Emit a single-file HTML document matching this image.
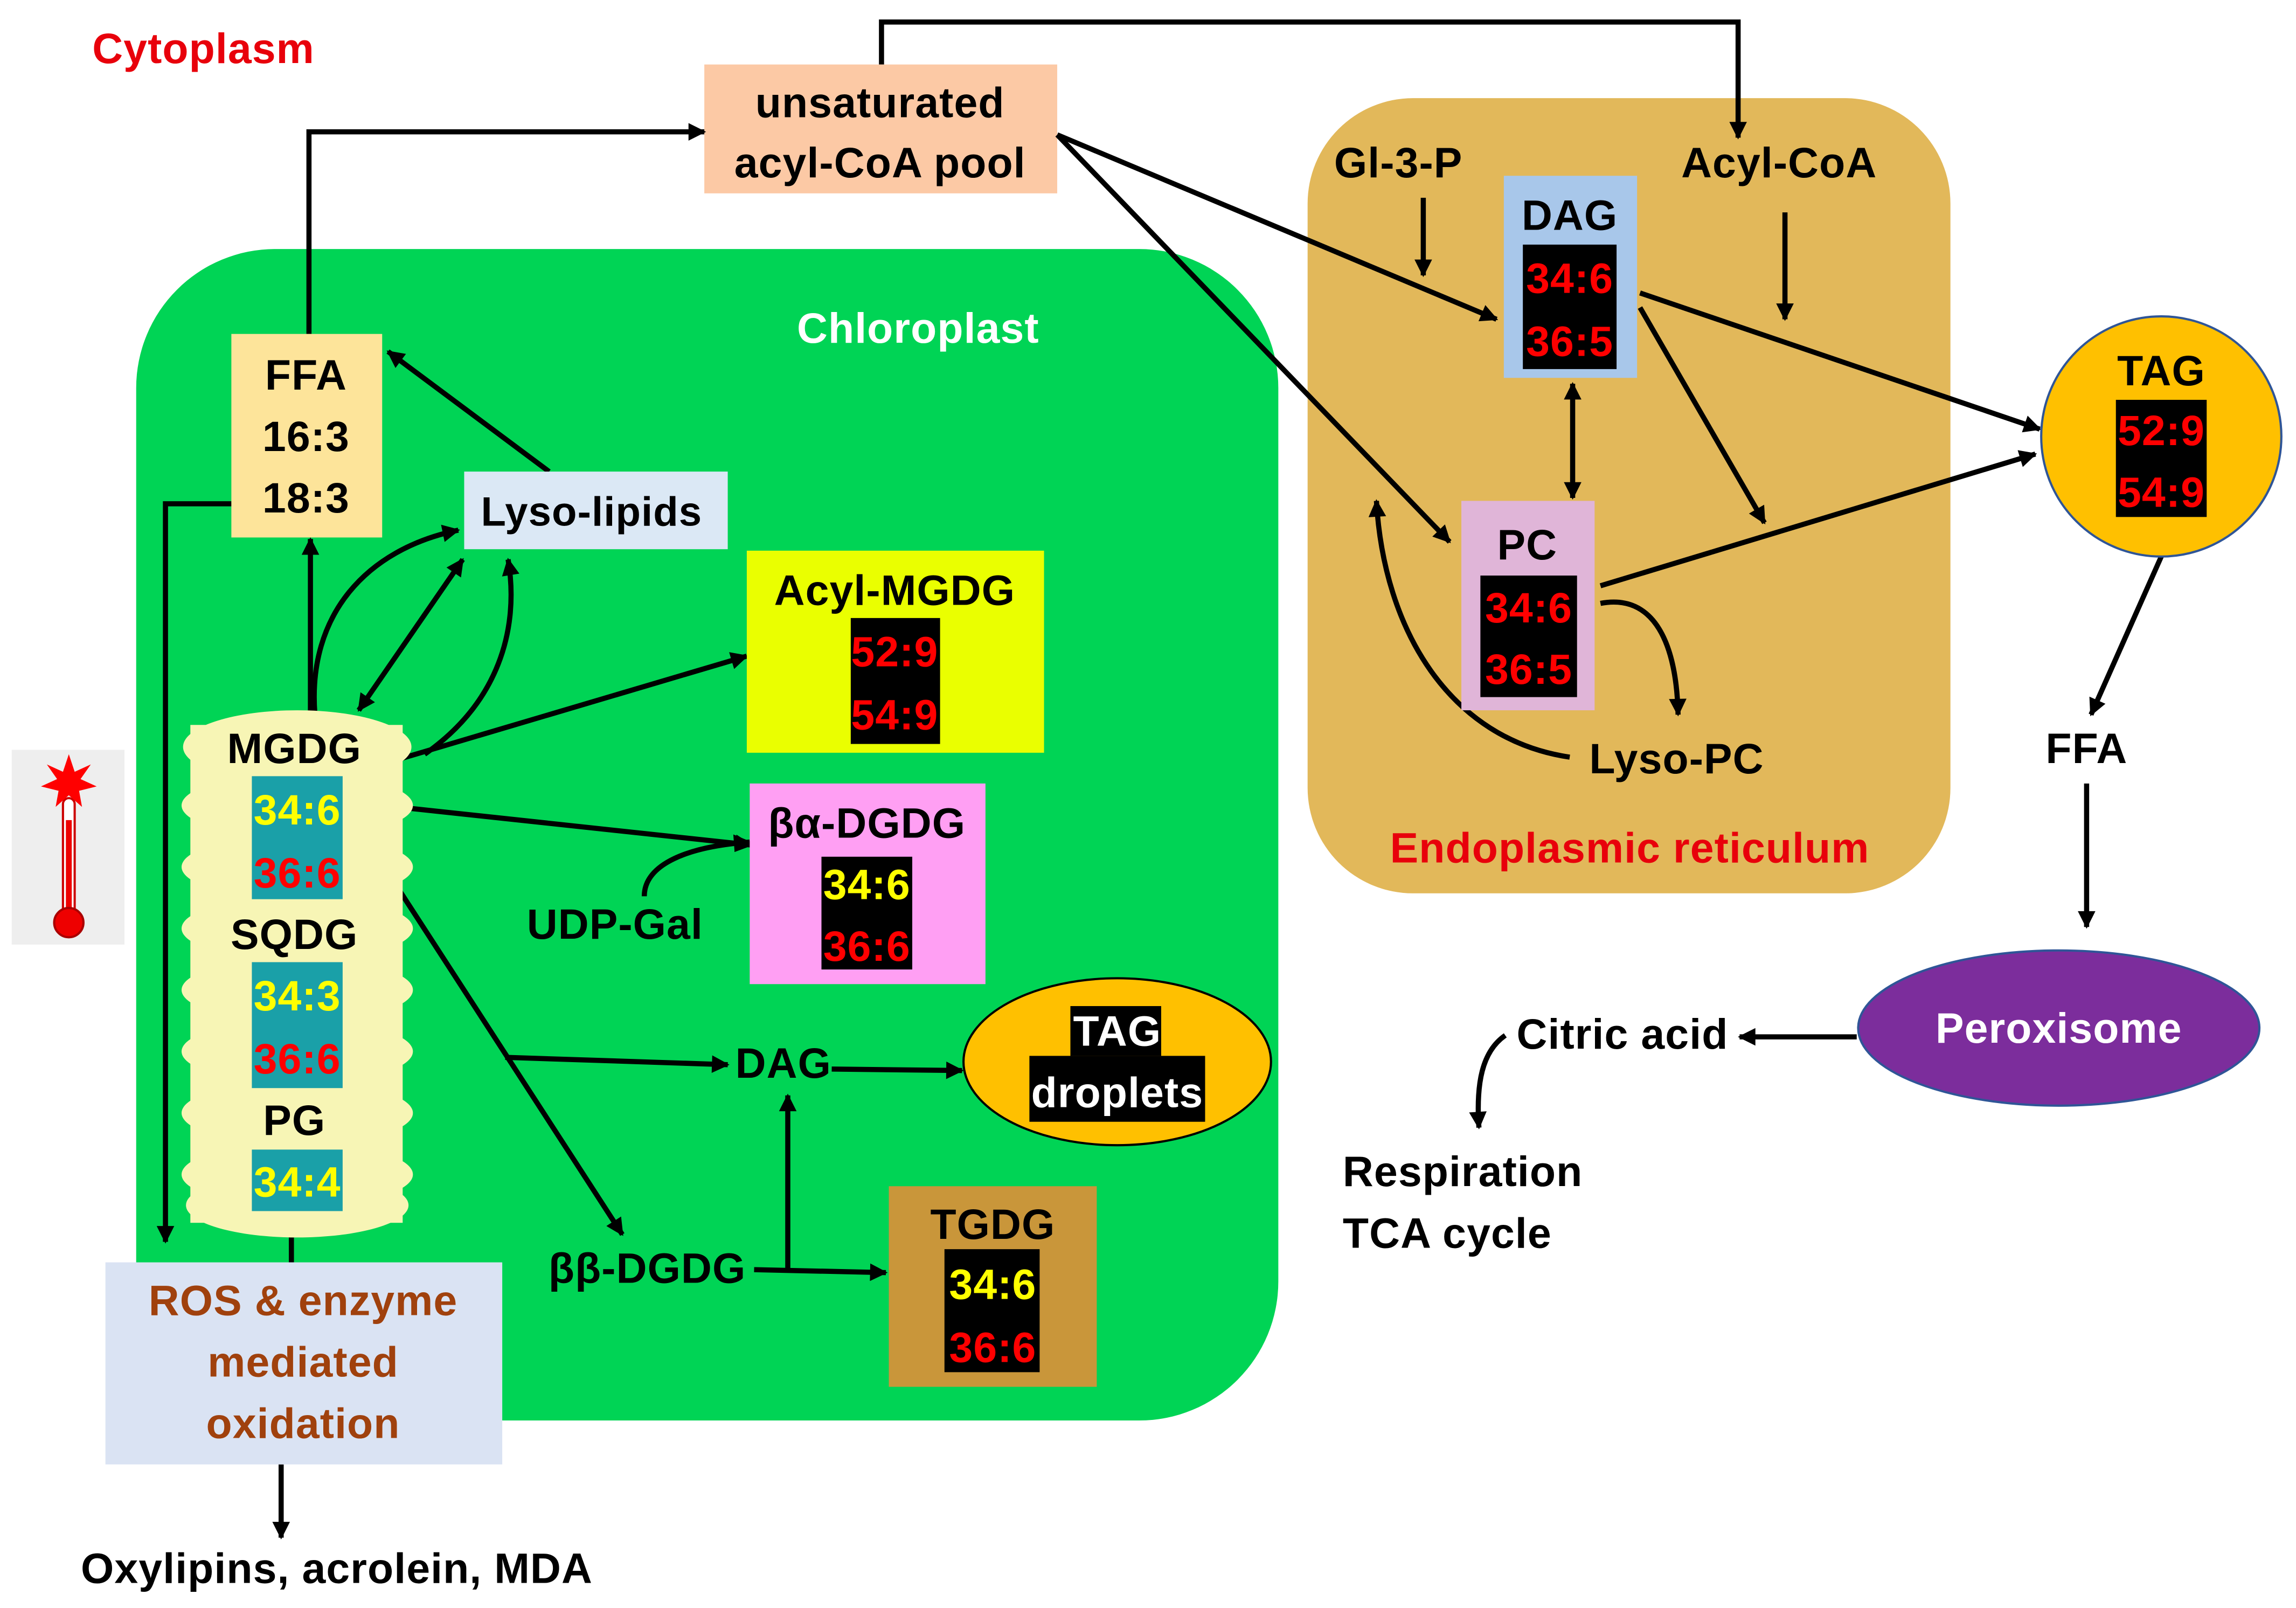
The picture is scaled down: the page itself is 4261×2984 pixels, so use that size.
<!DOCTYPE html>
<html><head><meta charset="utf-8"><style>
html,body{margin:0;padding:0;background:#fff}
svg{display:block}
text{font-family:"Liberation Sans",sans-serif;font-weight:bold;letter-spacing:0.4px}
</style></head><body>
<svg width="4261" height="2984" viewBox="0 0 1568 1098" xmlns="http://www.w3.org/2000/svg">
<defs>
<marker id="b" viewBox="0 0 10 10" refX="9" refY="5" markerWidth="14" markerHeight="12" orient="auto-start-reverse" markerUnits="userSpaceOnUse"><path d="M0,0 L10,5 L0,10 z" fill="#000"/></marker>
</defs>
<rect width="1568" height="1098" fill="#fff"/>
<text x="63" y="43" font-size="29" fill="#e8000b">Cytoplasm</text>

<rect x="93" y="170" width="780" height="800" rx="95" fill="#00d455"/>
<text x="627" y="234" font-size="29" fill="#fff" text-anchor="middle">Chloroplast</text>
<rect x="893" y="67" width="439" height="543" rx="72" fill="#e2b85a"/>
<text x="1113" y="589" font-size="29" fill="#e8000b" text-anchor="middle">Endoplasmic reticulum</text>

<rect x="481" y="44" width="241" height="88" fill="#fcc9a5"/>
<text x="601" y="80" font-size="29" text-anchor="middle">unsaturated</text>
<text x="601" y="121" font-size="29" text-anchor="middle">acyl-CoA pool</text>

<g stroke="#000" stroke-width="3.5" fill="none">
<polyline points="602,44 602,15 1187,15 1187,94" marker-end="url(#b)"/>
<polyline points="211,228 211,90 481,90" marker-end="url(#b)"/>
<line x1="375" y1="322" x2="265" y2="240" marker-end="url(#b)"/>
<polyline points="158,344 113,344 113,848" marker-end="url(#b)"/>
<line x1="199" y1="845" x2="199" y2="862"/>
<line x1="192" y1="1000" x2="192" y2="1050" marker-end="url(#b)"/>
<line x1="212" y1="487" x2="212" y2="368" marker-end="url(#b)"/>
<path d="M215,487 C210,420 250,375 313,362" marker-end="url(#b)"/>
<line x1="245" y1="485" x2="316" y2="382" marker-start="url(#b)" marker-end="url(#b)"/>
<path d="M290,515 C340,480 355,430 347,382" marker-end="url(#b)"/>
<line x1="240" y1="528" x2="510" y2="448" marker-end="url(#b)"/>
<line x1="243" y1="548" x2="513" y2="577" marker-end="url(#b)"/>
<line x1="243" y1="562" x2="425" y2="843" marker-end="url(#b)"/>
<path d="M440,612 C440,590 470,578 512,575" marker-end="url(#b)"/>
<line x1="345" y1="722" x2="497" y2="727" marker-end="url(#b)"/>
<line x1="568" y1="730" x2="657" y2="731" marker-end="url(#b)"/>
<line x1="515" y1="867" x2="605" y2="869" marker-end="url(#b)"/>
<line x1="538" y1="866" x2="538" y2="748" marker-end="url(#b)"/>
<line x1="722" y1="92" x2="1022" y2="218" marker-end="url(#b)"/>
<line x1="722" y1="92" x2="990" y2="370" marker-end="url(#b)"/>
<line x1="972" y1="135" x2="972" y2="188" marker-end="url(#b)"/>
<line x1="1219" y1="145" x2="1219" y2="218" marker-end="url(#b)"/>
<line x1="1074" y1="262" x2="1074" y2="340" marker-start="url(#b)" marker-end="url(#b)"/>
<line x1="1120" y1="200" x2="1393" y2="293" marker-end="url(#b)"/>
<line x1="1120" y1="210" x2="1205" y2="357" marker-end="url(#b)"/>
<line x1="1093" y1="400" x2="1390" y2="310" marker-end="url(#b)"/>
<path d="M1072,517 C990,505 945,430 940,342" marker-end="url(#b)"/>
<path d="M1093,412 C1130,405 1145,440 1146,488" marker-end="url(#b)"/>
<line x1="1476" y1="380" x2="1428" y2="488" marker-end="url(#b)"/>
<line x1="1425" y1="535" x2="1425" y2="633" marker-end="url(#b)"/>
<line x1="1268" y1="708" x2="1188" y2="708" marker-end="url(#b)"/>
<path d="M1028,707 C1012,718 1008,740 1010,770" marker-end="url(#b)"/>
</g>

<rect x="158" y="228" width="103" height="139" fill="#fde49a"/>
<text x="209" y="266" font-size="29" text-anchor="middle">FFA</text>
<text x="209" y="308" font-size="29" text-anchor="middle">16:3</text>
<text x="209" y="350" font-size="29" text-anchor="middle">18:3</text>
<rect x="317" y="322" width="180" height="53" fill="#dbe8f5"/>
<text x="404" y="359" font-size="28" text-anchor="middle">Lyso-lipids</text>

<g fill="#f7f5b5">
<rect x="130" y="495" width="145" height="340"/>
<ellipse cx="203" cy="510" rx="78" ry="25"/>
<ellipse cx="203" cy="550" rx="79" ry="22"/>
<ellipse cx="203" cy="592" rx="79" ry="22"/>
<ellipse cx="203" cy="634" rx="79" ry="22"/>
<ellipse cx="203" cy="676" rx="79" ry="22"/>
<ellipse cx="203" cy="718" rx="79" ry="22"/>
<ellipse cx="203" cy="760" rx="79" ry="22"/>
<ellipse cx="203" cy="802" rx="79" ry="22"/>
<ellipse cx="203" cy="823" rx="76" ry="22"/>
</g>
<text x="201" y="521" font-size="29" text-anchor="middle">MGDG</text>
<rect x="172" y="530" width="62" height="84" fill="#1aa0a8"/>
<text x="203" y="563" font-size="29" text-anchor="middle" fill="#ffff00">34:6</text>
<text x="203" y="606" font-size="29" text-anchor="middle" fill="#ff0000">36:6</text>
<text x="201" y="648" font-size="29" text-anchor="middle">SQDG</text>
<rect x="172" y="657" width="62" height="86" fill="#1aa0a8"/>
<text x="203" y="690" font-size="29" text-anchor="middle" fill="#ffff00">34:3</text>
<text x="203" y="733" font-size="29" text-anchor="middle" fill="#ff0000">36:6</text>
<text x="201" y="775" font-size="29" text-anchor="middle">PG</text>
<rect x="172" y="785" width="62" height="42" fill="#1aa0a8"/>
<text x="203" y="817" font-size="29" text-anchor="middle" fill="#ffff00">34:4</text>

<rect x="72" y="862" width="271" height="138" fill="#dae3f3"/>
<text x="207" y="898" font-size="29" text-anchor="middle" fill="#a0410d">ROS &amp; enzyme</text>
<text x="207" y="940" font-size="29" text-anchor="middle" fill="#a0410d">mediated</text>
<text x="207" y="982" font-size="29" text-anchor="middle" fill="#a0410d">oxidation</text>
<text x="230" y="1081" font-size="29" text-anchor="middle">Oxylipins, acrolein, MDA</text>

<rect x="8" y="512" width="77" height="133" fill="#eeeeee"/>
<rect x="43" y="545" width="8" height="82" rx="4" fill="#fff" stroke="#c00" stroke-width="1.5"/>
<rect x="45" y="560" width="4" height="70" fill="#e00"/>
<circle cx="47" cy="630" r="10" fill="#e00" stroke="#a00" stroke-width="1.5"/>
<polygon points="47,515 51,527 62,522 55,532 66,537 54,540 56,551 47,543 38,551 40,540 28,537 39,532 32,522 43,527" fill="#f00"/>

<rect x="510" y="376" width="203" height="138" fill="#eaff00"/>
<text x="611" y="413" font-size="29" text-anchor="middle">Acyl-MGDG</text>
<rect x="581" y="422" width="61" height="86" fill="#000"/>
<text x="611" y="455" font-size="29" text-anchor="middle" fill="#ff0000">52:9</text>
<text x="611" y="498" font-size="29" text-anchor="middle" fill="#ff0000">54:9</text>

<rect x="512" y="535" width="161" height="137" fill="#ff9ff3"/>
<text x="592" y="572" font-size="29" text-anchor="middle">βα-DGDG</text>
<rect x="561" y="585" width="62" height="77" fill="#000"/>
<text x="592" y="614" font-size="29" text-anchor="middle" fill="#ffff00">34:6</text>
<text x="592" y="656" font-size="29" text-anchor="middle" fill="#ff0000">36:6</text>
<text x="420" y="641" font-size="29" text-anchor="middle">UDP-Gal</text>

<text x="535" y="736" font-size="29" text-anchor="middle">DAG</text>
<ellipse cx="763" cy="725" rx="105" ry="57" fill="#ffc000" stroke="#000" stroke-width="1.5"/>
<rect x="731" y="687" width="62" height="34" fill="#000"/>
<rect x="703" y="721" width="120" height="45" fill="#000"/>
<text x="763" y="714" font-size="29" text-anchor="middle" fill="#fff">TAG</text>
<text x="763" y="756" font-size="29" text-anchor="middle" fill="#fff">droplets</text>
<text x="442" y="876" font-size="29" text-anchor="middle">ββ-DGDG</text>

<rect x="607" y="810" width="142" height="137" fill="#c9963a"/>
<text x="678" y="846" font-size="29" text-anchor="middle">TGDG</text>
<rect x="645" y="853" width="65" height="84" fill="#000"/>
<text x="678" y="887" font-size="29" text-anchor="middle" fill="#ffff00">34:6</text>
<text x="678" y="930" font-size="29" text-anchor="middle" fill="#ff0000">36:6</text>

<text x="955" y="121" font-size="29" text-anchor="middle">Gl-3-P</text>
<text x="1215" y="121" font-size="29" text-anchor="middle">Acyl-CoA</text>
<rect x="1027" y="120" width="91" height="138" fill="#a8c7ea"/>
<text x="1072" y="157" font-size="29" text-anchor="middle">DAG</text>
<rect x="1040" y="167" width="64" height="85" fill="#000"/>
<text x="1072" y="200" font-size="29" text-anchor="middle" fill="#ff0000">34:6</text>
<text x="1072" y="243" font-size="29" text-anchor="middle" fill="#ff0000">36:5</text>
<rect x="998" y="342" width="91" height="143" fill="#e0b5d8"/>
<text x="1043" y="382" font-size="29" text-anchor="middle">PC</text>
<rect x="1011" y="393" width="66" height="83" fill="#000"/>
<text x="1044" y="425" font-size="29" text-anchor="middle" fill="#ff0000">34:6</text>
<text x="1044" y="467" font-size="29" text-anchor="middle" fill="#ff0000">36:5</text>
<text x="1145" y="528" font-size="29" text-anchor="middle">Lyso-PC</text>

<circle cx="1476" cy="298" r="82" fill="#ffc000" stroke="#2f5597" stroke-width="1.5"/>
<text x="1476" y="263" font-size="29" text-anchor="middle">TAG</text>
<rect x="1445" y="273" width="62" height="80" fill="#000"/>
<text x="1476" y="304" font-size="29" text-anchor="middle" fill="#ff0000">52:9</text>
<text x="1476" y="346" font-size="29" text-anchor="middle" fill="#ff0000">54:9</text>
<text x="1425" y="521" font-size="29" text-anchor="middle">FFA</text>

<ellipse cx="1406" cy="702" rx="137" ry="53" fill="#7c2d9c" stroke="#2f5597" stroke-width="1.5"/>
<text x="1406" y="712" font-size="29" text-anchor="middle" fill="#fff">Peroxisome</text>
<text x="1108" y="716" font-size="29" text-anchor="middle">Citric acid</text>
<text x="917" y="810" font-size="29">Respiration</text>
<text x="917" y="852" font-size="29">TCA cycle</text>
</svg>
</body></html>
